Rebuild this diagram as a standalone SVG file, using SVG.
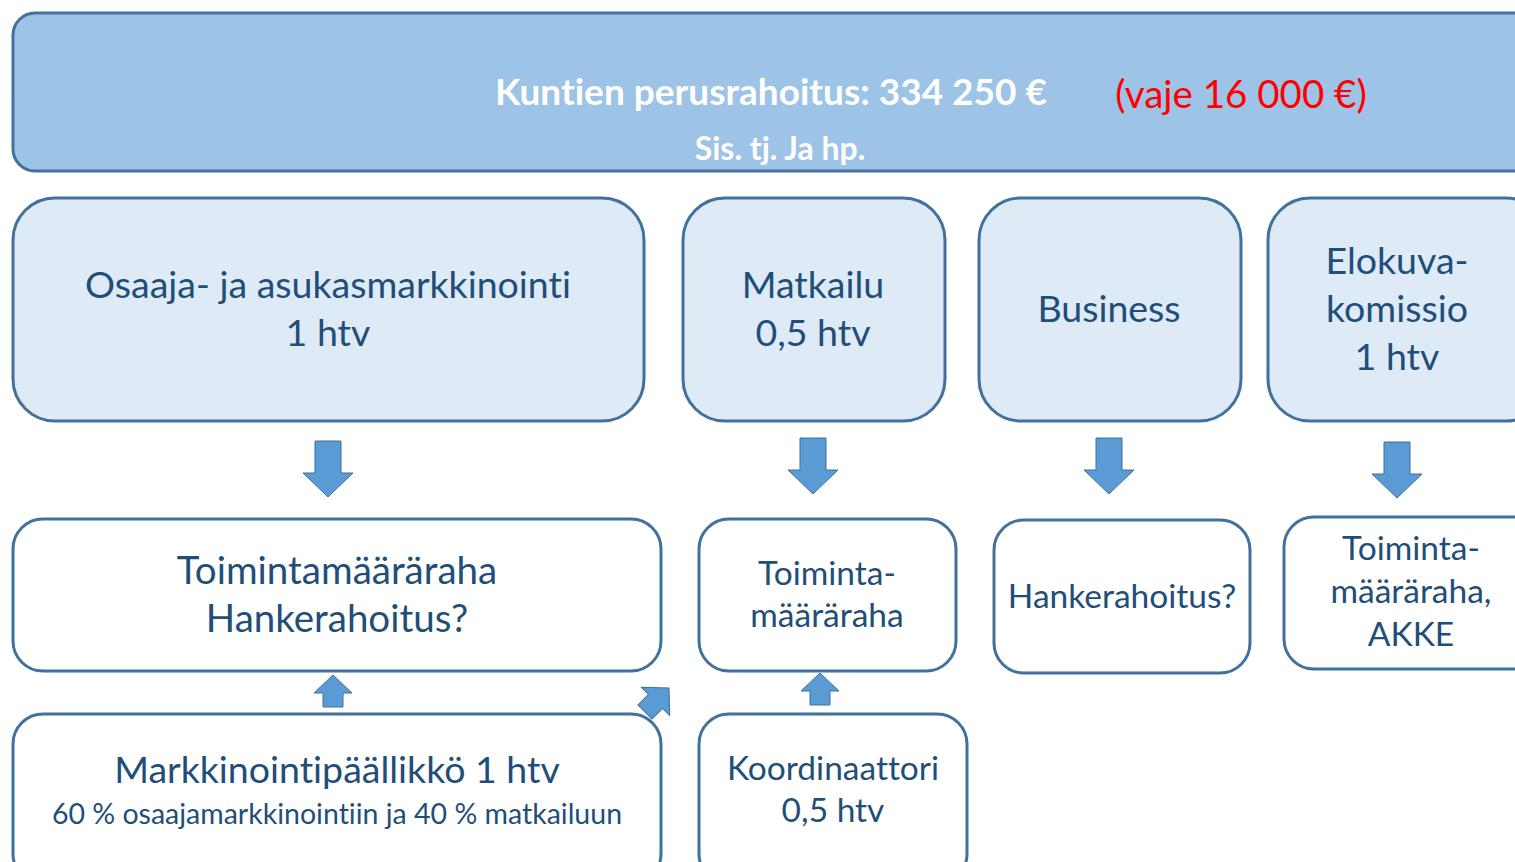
<svg xmlns="http://www.w3.org/2000/svg" width="1515" height="862" viewBox="0 0 1515 862">
<defs>
<style>
.top{fill:#9DC3E6;stroke:#41719C;stroke-width:3}
.mid{fill:#DEEBF7;stroke:#41719C;stroke-width:3}
.low{fill:#FFFFFF;stroke:#41719C;stroke-width:3}
.arr{fill:#5B9BD5;stroke:#41719C;stroke-width:1}
text{font-family:Lato,"Open Sans","Liberation Sans",sans-serif;text-anchor:middle;font-variant-ligatures:none}
.t{fill:#1F4E79}
.w{fill:#FFFFFF;font-weight:bold}
</style>
<path id="down" d="M-13,0 H13 V32 H25 L0,56 L-25,32 H-13 Z"/>
<path id="up" d="M-10,32 H10 V18 H19 L0,0 L-19,18 H-10 Z"/>
</defs>
<rect width="1515" height="862" fill="#FFFFFF"/>
<g id="top-node">
<rect class="top" x="13" y="13" width="1530" height="158" rx="22"/>
<text class="w" x="771" y="105" font-size="37">Kuntien perusrahoitus: 334 250 €</text>
<text x="1241" y="108" font-size="38.5" fill="#FF0000">(vaje 16 000 €)</text>
<text class="w" x="780" y="160" font-size="32">Sis. tj. Ja hp.</text>
</g>
<g id="osaaja">
<rect class="mid" x="13" y="198" width="631" height="223" rx="42"/>
<text class="t" x="328" y="298" font-size="37.5">Osaaja- ja asukasmarkkinointi</text>
<text class="t" x="328" y="346" font-size="37.5">1 htv</text>
</g>
<g id="matkailu">
<rect class="mid" x="683" y="198" width="262" height="223" rx="42"/>
<text class="t" x="813" y="298" font-size="37.5">Matkailu</text>
<text class="t" x="813" y="346" font-size="37.5">0,5 htv</text>
</g>
<g id="business">
<rect class="mid" x="979" y="198" width="262" height="223" rx="42"/>
<text class="t" x="1109" y="322" font-size="37.5">Business</text>
</g>
<g id="elokuva">
<rect class="mid" x="1268" y="198" width="280" height="223" rx="42"/>
<text class="t" x="1397" y="274" font-size="37.5">Elokuva-</text>
<text class="t" x="1397" y="322" font-size="37.5">komissio</text>
<text class="t" x="1397" y="370" font-size="37.5">1 htv</text>
</g>
<g id="toimintamaararaha-hanke">
<rect class="low" x="13" y="519" width="648" height="152" rx="30"/>
<text class="t" x="337" y="584" font-size="38.5">Toimintamääräraha</text>
<text class="t" x="337" y="632" font-size="38.5">Hankerahoitus?</text>
</g>
<g id="toiminta-matkailu">
<rect class="low" x="699" y="519" width="257" height="152" rx="30"/>
<text class="t" x="827" y="585" font-size="33.5">Toiminta-</text>
<text class="t" x="827" y="627" font-size="33.5">määräraha</text>
</g>
<g id="hankerahoitus">
<rect class="low" x="994" y="520" width="256" height="153" rx="30"/>
<text class="t" x="1122" y="608" font-size="33.5">Hankerahoitus?</text>
</g>
<g id="toiminta-akke">
<rect class="low" x="1284" y="517" width="260" height="152" rx="30"/>
<text class="t" x="1411" y="560" font-size="33.5">Toiminta-</text>
<text class="t" x="1411" y="603" font-size="33.5">määräraha,</text>
<text class="t" x="1411" y="646" font-size="33.5">AKKE</text>
</g>
<g id="markkinointipaallikko">
<rect class="low" x="13" y="714" width="648" height="170" rx="30"/>
<text class="t" x="337" y="783" font-size="37.5">Markkinointipäällikkö 1 htv</text>
<text class="t" x="337" y="824" font-size="28.5">60 % osaajamarkkinointiin ja 40 % matkailuun</text>
</g>
<g id="koordinaattori">
<rect class="low" x="699" y="714" width="268" height="170" rx="30"/>
<text class="t" x="833" y="780" font-size="33.5">Koordinaattori</text>
<text class="t" x="833" y="822" font-size="33.5">0,5 htv</text>
</g>
<g id="connectors">
<use href="#down" class="arr" x="328" y="441"/>
<use href="#down" class="arr" x="813" y="438"/>
<use href="#down" class="arr" x="1109" y="438"/>
<use href="#down" class="arr" x="1397" y="442"/>
<use href="#up" class="arr" x="333" y="675"/>
<use href="#up" class="arr" x="820" y="673"/>
<path class="arr" d="M-10,34 H10 V19 H20 L0,0 L-20,19 H-10 Z" transform="translate(657,700) rotate(45) translate(0,-17)"/>
</g>
</svg>
